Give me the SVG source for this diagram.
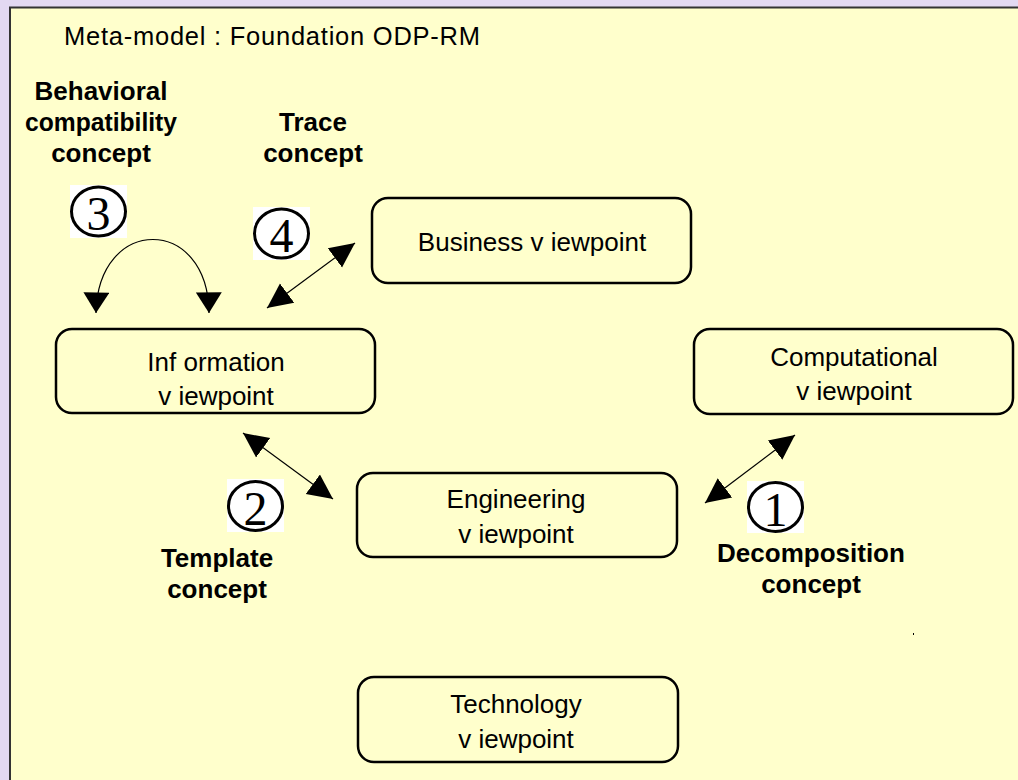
<svg xmlns="http://www.w3.org/2000/svg" width="1018" height="780" viewBox="0 0 1018 780">
<defs>
<style>
.box{fill:#ffffcc;stroke:#000;stroke-width:2.5}
.lbl{font-family:"Liberation Sans",Arial,sans-serif;font-size:26px;fill:#000;text-anchor:middle}
.bold{font-family:"Liberation Sans",Arial,sans-serif;font-size:26px;font-weight:bold;fill:#000;text-anchor:middle}
.num{font-family:"Liberation Serif","Times New Roman",serif;font-size:48px;fill:#000;text-anchor:middle}
.conn{fill:none;stroke:#000;stroke-width:1.2}
.badge-bg{fill:#fff}
.badge{fill:#fff;stroke:#000;stroke-width:3}
</style>
<marker id="ah" markerUnits="userSpaceOnUse" markerWidth="26" markerHeight="26" refX="25" refY="12" orient="auto-start-reverse" viewBox="0 0 26 24">
<path d="M0,0 L25,12 L0,24 z" fill="#000"/>
</marker>
<marker id="ah2" markerUnits="userSpaceOnUse" markerWidth="22" markerHeight="26" refX="19" refY="12" orient="auto-start-reverse" viewBox="0 0 20 24">
<path d="M0,0 L19,12 L0,24 z" fill="#000"/>
</marker>
</defs>
<rect x="0" y="0" width="1018" height="780" fill="#e3d9f2"/>
<rect x="10" y="7.5" width="1020" height="790" fill="#ffffcc" stroke="#333" stroke-width="2"/>
<text x="64" y="45" font-family="'Liberation Sans',Arial,sans-serif" font-size="25.5" fill="#000" textLength="416" lengthAdjust="spacing">Meta-model : Foundation ODP-RM</text>

<g id="label-behavioral">
<text class="bold" x="101" y="100">Behavioral</text>
<text class="bold" x="101" y="131" textLength="152" lengthAdjust="spacingAndGlyphs">compatibility</text>
<text class="bold" x="101" y="162">concept</text>
</g>
<g id="label-trace">
<text class="bold" x="313" y="131">Trace</text>
<text class="bold" x="313" y="162">concept</text>
</g>
<g id="label-template">
<text class="bold" x="217" y="567">Template</text>
<text class="bold" x="217" y="598">concept</text>
</g>
<g id="label-decomposition">
<text class="bold" x="811" y="562">Decomposition</text>
<text class="bold" x="811" y="593">concept</text>
</g>

<g id="business">
<rect class="box" x="372" y="198" width="319" height="85" rx="16"/>
<text class="lbl" x="532" y="251">Business v iewpoint</text>
</g>
<g id="information">
<rect class="box" x="56" y="329" width="319" height="84" rx="16"/>
<text class="lbl" x="216" y="371">Inf ormation</text>
<text class="lbl" x="216" y="405">v iewpoint</text>
</g>
<g id="computational">
<rect class="box" x="694" y="329" width="319" height="85" rx="16"/>
<text class="lbl" x="854" y="366">Computational</text>
<text class="lbl" x="854" y="400">v iewpoint</text>
</g>
<g id="engineering">
<rect class="box" x="357" y="473" width="320" height="84" rx="16"/>
<text class="lbl" x="516" y="508">Engineering</text>
<text class="lbl" x="516" y="543">v iewpoint</text>
</g>
<g id="technology">
<rect class="box" x="358" y="677" width="320" height="85" rx="16"/>
<text class="lbl" x="516" y="713">Technology</text>
<text class="lbl" x="516" y="748">v iewpoint</text>
</g>

<g id="connectors">
<path class="conn" d="M96,313 C98,215 208,215 209,313" marker-start="url(#ah2)" marker-end="url(#ah2)"/>
<line class="conn" x1="267" y1="308" x2="355" y2="243" marker-start="url(#ah)" marker-end="url(#ah)"/>
<line class="conn" x1="243" y1="433" x2="333" y2="499" marker-start="url(#ah)" marker-end="url(#ah)"/>
<line class="conn" x1="705" y1="503" x2="795" y2="435" marker-start="url(#ah)" marker-end="url(#ah)"/>
</g>

<g id="badge-3">
<rect class="badge-bg" x="70" y="185" width="57" height="53"/>
<ellipse class="badge" cx="98.5" cy="211.5" rx="27" ry="24.5"/>
<text class="num" x="98.5" y="230">3</text>
</g>
<g id="badge-4">
<rect class="badge-bg" x="253" y="207" width="57" height="53"/>
<ellipse class="badge" cx="281.5" cy="233.5" rx="27" ry="24.5"/>
<text class="num" x="281.5" y="252">4</text>
</g>
<g id="badge-2">
<rect class="badge-bg" x="227" y="479" width="57" height="53"/>
<ellipse class="badge" cx="255.5" cy="506" rx="27" ry="24.5"/>
<text class="num" x="255.5" y="524.5">2</text>
</g>
<g id="badge-1">
<rect class="badge-bg" x="747" y="481" width="57" height="52"/>
<ellipse class="badge" cx="775.5" cy="507" rx="27" ry="24.5"/>
<text class="num" x="775.5" y="525.5">1</text>
</g>
<rect x="913" y="633" width="1" height="2" fill="#000"/>
</svg>
